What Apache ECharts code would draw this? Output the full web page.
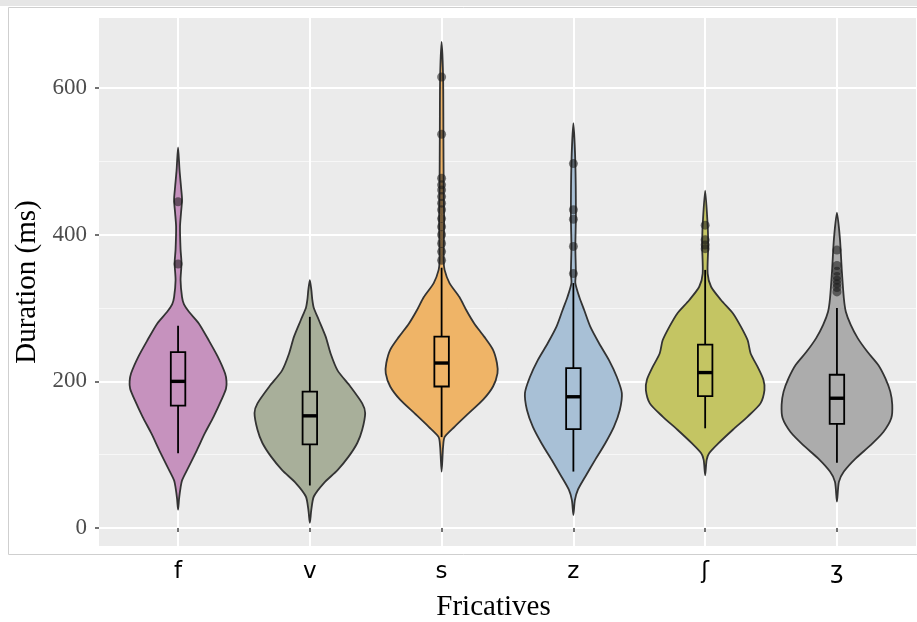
<!DOCTYPE html>
<html>
<head>
<meta charset="utf-8">
<script src="https://cdn.jsdelivr.net/npm/echarts@6/dist/echarts.min.js"></script>
<style>
html,body{margin:0;padding:0;background:#fff;}
#c{width:917px;height:622px;}
</style>
</head>
<body>
<div id="c"></div>
<script>
// ---- data ----
const categories = ['f', 'v', 's', 'z', 'ʃ', 'ʒ'];
const yTicks = [0, 200, 400, 600];
const yMinorTicks = [100, 300, 500];

// violin density profiles: [duration (ms), relative density (1 = widest)]
const violinF = [[25,0],[40,0.017],[55,0.042],[65,0.067],[84,0.183],[106,0.317],[129,0.45],[152,0.6],[175,0.733],[190,0.808],[200,0.817],[211,0.792],[234,0.667],[256,0.517],[279,0.35],[295,0.183],[305,0.1],[315,0.067],[338,0.042],[361,0.058],[380,0.042],[411,0.033],[430,0.05],[448,0.067],[465,0.05],[488,0.025],[519,0]];
const violinV = [[7,0],[25,0.025],[43,0.067],[61,0.233],[79,0.467],[97,0.65],[116,0.8],[134,0.883],[157,0.933],[170,0.883],[193,0.683],[215,0.467],[238,0.35],[261,0.267],[284,0.15],[300,0.067],[311,0.042],[325,0.025],[338,0]];
const violinS = [[77,0],[100,0.017],[111,0.025],[124,0.05],[138,0.217],[156,0.45],[175,0.7],[193,0.867],[211,0.942],[225,0.933],[243,0.867],[261,0.717],[279,0.55],[297,0.417],[315,0.3],[334,0.133],[352,0.05],[365,0.035],[420,0.042],[460,0.035],[540,0.03],[615,0.025],[663,0]];
const violinZ = [[18,0],[38,0.025],[52,0.075],[70,0.2],[93,0.367],[115,0.533],[138,0.683],[161,0.783],[184,0.817],[206,0.733],[229,0.6],[252,0.433],[275,0.283],[297,0.183],[315,0.1],[334,0.033],[347,0.042],[384,0.033],[425,0.042],[497,0.033],[552,0]];
const violinSh = [[72,0],[93,0.025],[102,0.067],[115,0.217],[134,0.467],[152,0.717],[170,0.933],[188,1.0],[202,0.983],[220,0.883],[238,0.767],[256,0.717],[275,0.6],[293,0.467],[311,0.267],[329,0.1],[347,0.042],[381,0.05],[393,0.05],[413,0.042],[460,0]];
const violinZh = [[36,0],[63,0.033],[77,0.117],[95,0.317],[113,0.567],[131,0.783],[150,0.917],[168,0.933],[186,0.9],[204,0.817],[222,0.7],[240,0.517],[259,0.35],[277,0.233],[295,0.15],[313,0.117],[350,0.083],[395,0.05],[430,0]];

// boxplot stats: [lower whisker, Q1, median, Q3, upper whisker]
const boxF  = [102, 167, 200, 240, 276];
const boxV  = [58, 114, 153, 186, 288];
const boxS  = [124, 193, 225, 261, 355];
const boxZ  = [77, 135, 179, 218, 334];
const boxSh = [136, 180, 212, 250, 352];
const boxZh = [89, 142, 177, 209, 300];

// outliers (ms)
const outF  = [360, 445];
const outV  = [];
const outS  = [365, 377, 388, 400, 411, 422, 434, 443, 452, 461, 468, 477, 537, 615];
const outZ  = [347, 384, 421, 434, 497];
const outSh = [381, 386, 393, 413];
const outZh = [322, 328, 333, 338, 343, 350, 358, 379];

// ---- styling ----
const fills = ['#C692BE', '#A8AF9A', '#EFB467', '#A8C0D6', '#C4C563', '#ACACAC'];
const VIOLIN_HALF = 0.45;
const BOX_HALF = 0.055;

const violins = [violinF, violinV, violinS, violinZ, violinSh, violinZh];
const boxes = [boxF, boxV, boxS, boxZ, boxSh, boxZh];
const outliers = [outF, outV, outS, outZ, outSh, outZh];
const catPos = categories.map((c, i) => i + 1);

const chart = echarts.init(document.getElementById('c'), null, {renderer: 'canvas'});

const option = {
  animation: false,
  backgroundColor: '#ffffff',
  graphic: [
    {type: 'rect', z: -10, shape: {x: 0, y: 0, width: 917, height: 6}, style: {fill: '#e6e6e6'}},
    {type: 'rect', z: -10, shape: {x: 8.5, y: 7.5, width: 930, height: 547}, style: {fill: 'none', stroke: '#cfcfcf', lineWidth: 1}}
  ],
  grid: {left: 99, right: 1, top: 18, bottom: 76, show: true, backgroundColor: '#EBEBEB', borderWidth: 0,
    containLabel: false, outerBoundsMode: 'none'},
  xAxis: {
    type: 'value', min: 0.4, max: 6.6,
    name: 'Fricatives', nameLocation: 'middle', nameGap: 47,
    nameTextStyle: {fontFamily: 'Liberation Serif', fontSize: 29, color: '#000', padding: [0, 28, 0, 0]},
    axisLine: {show: false},
    axisTick: {show: true, customValues: catPos, length: 4, lineStyle: {color: '#444', width: 1.5}},
    axisLabel: {customValues: catPos, margin: 15, fontFamily: 'DejaVu Sans', fontSize: 23, color: '#000',
      formatter: v => categories[Math.round(v) - 1] || ''},
    splitLine: {show: true, lineStyle: {color: '#ffffff', width: 2}}
  },
  yAxis: [{
    type: 'value', min: -24.5, max: 695.5,
    name: 'Duration (ms)', nameLocation: 'middle', nameGap: 56,
    nameTextStyle: {fontFamily: 'Liberation Serif', fontSize: 29, color: '#000'},
    axisLine: {show: false},
    axisTick: {show: true, customValues: yTicks, length: 4, lineStyle: {color: '#444', width: 1.5}},
    axisLabel: {customValues: yTicks, margin: 12, fontFamily: 'Liberation Serif', fontSize: 23, color: '#4D4D4D'},
    splitLine: {show: true, lineStyle: {color: '#ffffff', width: 2}}
  }, {
    type: 'value', min: -24.5, max: 695.5, position: 'left',
    axisLine: {show: false},
    axisTick: {show: false, customValues: yMinorTicks},
    axisLabel: {show: false, customValues: yMinorTicks},
    splitLine: {show: true, lineStyle: {color: '#f7f7f7', width: 1}}
  }],
  series: [
    {
      type: 'custom', name: 'violin', z: 2,
      data: catPos.map(p => [p]),
      renderItem: (params, api) => {
        const i = params.dataIndex;
        const prof = violins[i];
        const cx = api.value(0);
        const right = prof.map(([v, d]) => api.coord([cx + d * VIOLIN_HALF, v]));
        const left = prof.slice(1, -1).reverse().map(([v, d]) => api.coord([cx - d * VIOLIN_HALF, v]));
        return {
          type: 'polygon',
          shape: {points: right.concat(left), smooth: 0.25},
          style: {fill: fills[i], stroke: '#333333', lineWidth: 1.8}
        };
      }
    },
    {
      type: 'custom', name: 'box', z: 3,
      data: boxes.map((b, i) => [i + 1].concat(b)),
      renderItem: (params, api) => {
        const x = api.value(0);
        const lo = api.value(1), q1 = api.value(2), md = api.value(3), q3 = api.value(4), hi = api.value(5);
        const pLo = api.coord([x, lo]), pQ1 = api.coord([x, q1]), pQ3 = api.coord([x, q3]), pHi = api.coord([x, hi]);
        const a = api.coord([x - BOX_HALF, q3]), b = api.coord([x + BOX_HALF, q1]);
        const m1 = api.coord([x - BOX_HALF, md]), m2 = api.coord([x + BOX_HALF, md]);
        const ls = {stroke: '#000', lineWidth: 1.8};
        return {
          type: 'group',
          children: [
            {type: 'line', shape: {x1: pLo[0], y1: pLo[1], x2: pQ1[0], y2: pQ1[1]}, style: ls},
            {type: 'line', shape: {x1: pQ3[0], y1: pQ3[1], x2: pHi[0], y2: pHi[1]}, style: ls},
            {type: 'rect', shape: {x: a[0], y: a[1], width: b[0] - a[0], height: b[1] - a[1]}, style: {fill: 'none', stroke: '#000', lineWidth: 1.8}},
            {type: 'line', shape: {x1: m1[0], y1: m1[1], x2: m2[0], y2: m2[1]}, style: {stroke: '#000', lineWidth: 3.4}}
          ]
        };
      }
    },
    {
      type: 'scatter', name: 'outliers', z: 4,
      symbol: 'circle', symbolSize: 9,
      itemStyle: {color: 'rgba(25,25,25,0.7)'},
      data: outliers.flatMap((arr, i) => arr.map(v => [i + 1, v]))
    }
  ]
};
chart.setOption(option);
</script>
</body>
</html>
